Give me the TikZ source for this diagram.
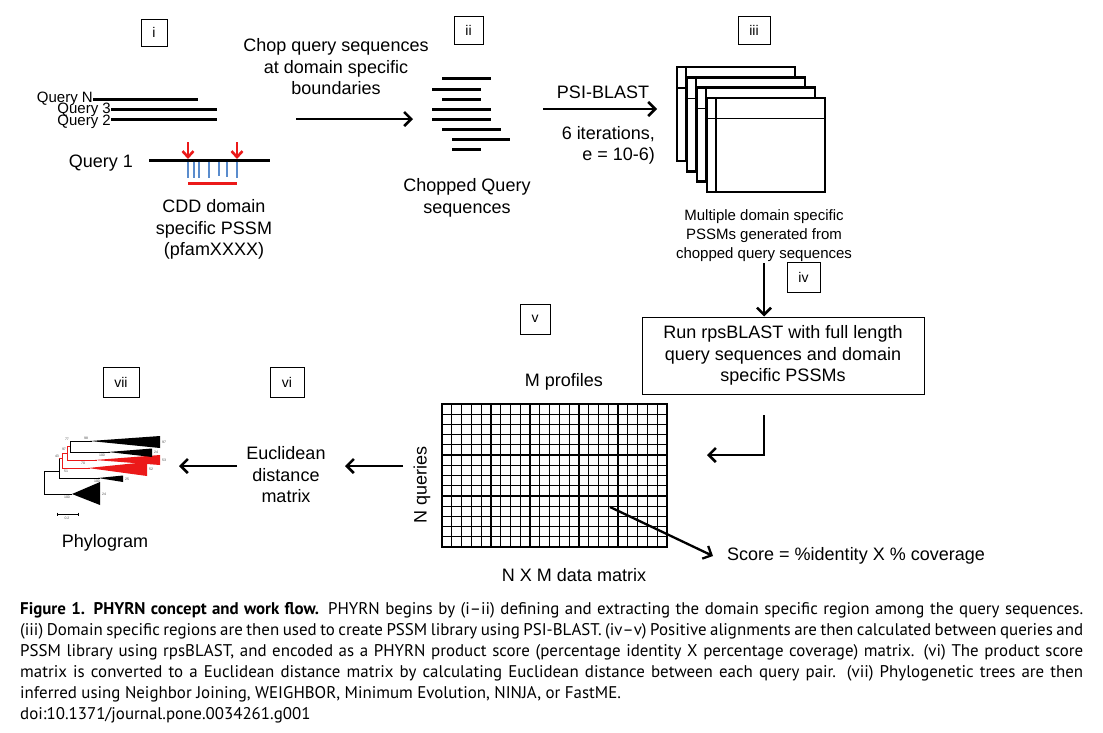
\documentclass[tikz,border=0pt]{standalone}
\usepackage{fontspec}
\setmainfont{Liberation Sans}
\newfontfamily\capfont{PT Sans}
\usetikzlibrary{arrows.meta}
\definecolor{qred}{RGB}{235,25,25}
\definecolor{qblue}{RGB}{90,140,205}
\begin{document}
\begin{tikzpicture}[x=1pt,y=-1pt,
  lbl/.style={font=\fontsize{18}{21.5}\selectfont,align=center,inner sep=0pt},
  smalllbl/.style={font=\fontsize{15}{19}\selectfont,align=center,inner sep=0pt},
  qlbl/.style={font=\fontsize{15}{15}\selectfont,inner sep=0pt,anchor=east},
  numbox/.style={draw,line width=0.9pt,font=\fontsize{14}{14}\selectfont,inner sep=0pt},
  seq/.style={line width=3pt},
  flow/.style={line width=2.6pt,-{Straight Barb[length=7pt,width=14pt]}},
  pssm/.style={line width=2.4pt,fill=white},
  tree/.style={line width=0.7pt},
  tiny/.style={font=\fontsize{3.5}{3.5}\selectfont,inner sep=0pt,text=black!70},
  capline/.style={anchor=base west,inner sep=0pt,font=\capfont\fontsize{16.9}{18}\selectfont}]
\useasboundingbox[fill=white] (0,0) rectangle (1103,732);

% step boxes
\node[numbox,minimum width=26pt,minimum height=27pt] (bi) at (154,32.5) {i};
\node[numbox,minimum width=29pt,minimum height=28pt] (bii) at (468.5,30) {ii};
\node[numbox,minimum width=32pt,minimum height=28pt] (biii) at (754,30) {iii};
\node[numbox,minimum width=33pt,minimum height=30pt] (biv) at (803.5,277) {iv};
\node[numbox,minimum width=30pt,minimum height=30pt] (bv) at (535,319) {v};
\node[numbox,minimum width=34pt,minimum height=30pt] (bvi) at (287,382) {vi};
\node[numbox,minimum width=36pt,minimum height=30pt] (bvii) at (121,382) {vii};

% (i) query sequences
\node[qlbl] (qN) at (93,99) {Query N};
\node[qlbl] (q3) at (111,110) {Query 3};
\node[qlbl] (q2) at (111,122) {Query 2};
\coordinate (qNe) at (198,99);
\coordinate (q3s) at (111,109); \coordinate (q3e) at (217,109);
\coordinate (q2s) at (111,119); \coordinate (q2e) at (217,119);
\draw[seq] (qN.east) -- (qNe);
\draw[seq] (q3s) -- (q3e);
\draw[seq] (q2s) -- (q2e);
\node[lbl,anchor=east] (q1) at (133,163) {Query 1};
\coordinate (q1s) at (149,160); \coordinate (q1e) at (270,160);
\draw[seq] (q1s) -- (q1e);
\foreach \x/\l in {188/18,194/18,199/18,209/18,219/16,227/17,237/18}
  \draw[qblue,line width=1.1pt] (\x,161.5) -- (\x,160+\l);
\draw[qred,line width=3pt] (188,183) -- (237,183);
\foreach \x in {188,237}
  \draw[qred,line width=2.6pt,-{Straight Barb[length=6pt,width=11pt]}] (\x,142) -- (\x,159);
\node[lbl] (cdd) at (214,229.5) {CDD domain\\specific PSSM\\(pfamXXXX)};

% chop step
\node[lbl] (chop) at (336,67) {Chop query sequences\\at domain specific\\boundaries};
\coordinate (a1s) at (296,119); \coordinate (a1e) at (413,119);
\draw[flow] (a1s) -- (a1e);

% (ii) chopped sequences
\foreach \xa/\xb/\y in {442/491/78,432/481/89,442/481/99,432/491/109,432/491/119,442/501/129,452/510/139,452/481/149}
  \draw[seq] (\xa,\y) -- (\xb,\y);
\node[lbl] (chopped) at (467,198) {Chopped Query\\sequences};

% PSI-BLAST
\node[lbl] (psi) at (603,92) {PSI-BLAST};
\node[lbl,align=right,anchor=east] (iter) at (655,145.5) {6 iterations,\\e = 10-6)};
\coordinate (a2s) at (543,109); \coordinate (a2e) at (657,109);
\draw[flow] (a2s) -- (a2e);

% (iii) stacked PSSMs
\foreach \k in {0,1,2,3}{
  \pgfmathsetmacro{\L}{677+10*\k}
  \pgfmathsetmacro{\T}{67+10.3*\k}
  \draw[pssm] (\L,\T) rectangle (\L+118,\T+94);
  \draw[line width=1.1pt] (\L+9,\T) -- (\L+9,\T+94);
  \draw[line width=1.1pt] (\L,\T+21) -- (\L+118,\T+21);
}
\node[smalllbl] (multi) at (764,236) {Multiple domain specific\\PSSMs generated from\\chopped query sequences};

% (iv)
\coordinate (a3s) at (764,263);
\node[draw,line width=1pt,minimum width=282pt,minimum height=77pt,lbl] (run) at (783,355.5) {Run rpsBLAST with full length\\query sequences and domain\\specific PSSMs};
\draw[flow] (a3s) -- (run.north -| a3s);
\coordinate (a4s) at (764,415); \coordinate (a4e) at (707,455);
\draw[flow] (a4s) |- (a4e);

% (v) matrix
\node[lbl] (mprof) at (564,382) {M profiles};
\draw[line width=1.2pt] \foreach \i in {1,...,22} {(442+\i*225/23,404) -- (442+\i*225/23,547)};
\draw[line width=1.2pt] \foreach \j in {1,...,13} {(442,404+\j*143/14) -- (667,404+\j*143/14)};
\node[draw,line width=2.6pt,minimum width=225pt,minimum height=143pt,inner sep=0pt] (mat) at (554.5,475.5) {};
\node[lbl,rotate=90] (nq) at (422,485) {N queries};
\node[lbl] (nxm) at (574,575) {N X M data matrix};
\coordinate (cell) at (610,507);
\node[lbl,anchor=west] (score) at (727,556) {Score = \%identity X \% coverage};
\draw[flow,line width=2.3pt] (cell) -- (score.west -| 713,0);

% (vi)
\node[lbl] (eucl) at (286,475) {Euclidean\\distance\\matrix};
\coordinate (a5s) at (403,466); \coordinate (a5e) at (345,466);
\draw[flow] (a5s) -- (a5e);
\coordinate (a6s) at (237,466); \coordinate (a6e) at (179,466);
\draw[flow] (a6s) -- (a6e);

% (vii) phylogram
\draw[tree] (44,471) -- (44,494);
\draw[tree] (44,494) -- (72,494);
\fill (72,494) -- (100,482) -- (100,505) -- cycle;
\draw[tree] (44,471) -- (59,471);
\draw[tree] (59,458) -- (59,478);
\draw[tree] (59,478) -- (100,478);
\fill (98,478) -- (123,475.5) -- (123,482) -- cycle;
\draw[tree,qred] (59,458) -- (62,458) (62,453) -- (62,468) (62,468) -- (90,468);
\fill[qred] (88,468) -- (147,462) -- (147,476) -- cycle;
\draw[tree,qred] (62,453) -- (67,453) (67,446) -- (67,460) (67,460) -- (97,460);
\fill[qred] (95,460) -- (160,455) -- (160,465) -- cycle;
\draw[tree,qred] (67,446) -- (70,446);
\draw[tree] (70,441) -- (70,452);
\draw[tree] (70,441) -- (92,441);
\fill (90,441) -- (160,436) -- (160,448) -- cycle;
\draw[tree] (70,452) -- (110,452);
\fill (108,452) -- (152,448.5) -- (152,457) -- cycle;
\node[tiny] (t1) at (86,438) {98};
\node[tiny] (t2) at (164,442) {97};
\node[tiny] (t3) at (67,439) {77};
\node[tiny] (t4) at (156,452) {24};
\node[tiny] (t5) at (102,455) {100};
\node[tiny] (t6) at (64,449) {97};
\node[tiny] (t7) at (164,460) {53};
\node[tiny] (t8) at (83,463) {70};
\node[tiny] (t9) at (57,456) {43};
\node[tiny] (t10) at (151,469) {52};
\node[tiny] (t11) at (66,471) {51};
\node[tiny] (t12) at (127,479) {25};
\node[tiny] (t13) at (97,481) {100};
\node[tiny] (t14) at (104,494) {24};
\node[tiny] (t15) at (67,497) {100};
\draw[line width=0.5pt] (57,514) -- (78,514) (57,512.5) -- (57,515.5) (78,512.5) -- (78,515.5);
\node[tiny] (t16) at (67,518) {0.2};
\node[lbl] (phylo) at (105,543) {Phylogram};

% caption
\node[capline] (c1) at (20,614.5) {\makebox[1063pt][s]{\textbf{Figure 1. PHYRN concept and work flow.} PHYRN begins by (i–ii) defining and extracting the domain specific region among the query sequences.}};
\node[capline] (c2) at (20,635.5) {\makebox[1063pt][s]{(iii) Domain specific regions are then used to create PSSM library using PSI-BLAST. (iv–v) Positive alignments are then calculated between queries and}};
\node[capline] (c3) at (20,656.5) {\makebox[1063pt][s]{PSSM library using rpsBLAST, and encoded as a PHYRN product score (percentage identity X percentage coverage) matrix. (vi) The product score}};
\node[capline] (c4) at (20,677.5) {\makebox[1063pt][s]{matrix is converted to a Euclidean distance matrix by calculating Euclidean distance between each query pair. (vii) Phylogenetic trees are then}};
\node[capline] (c5) at (20,698.5) {inferred using Neighbor Joining, WEIGHBOR, Minimum Evolution, NINJA, or FastME.};
\node[capline] (c6) at (20,719.5) {doi:10.1371/journal.pone.0034261.g001};
\end{tikzpicture}
\end{document}
